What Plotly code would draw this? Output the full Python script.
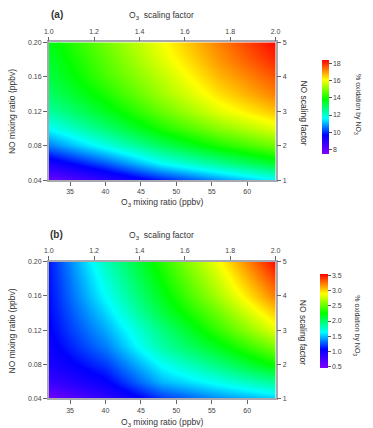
import plotly.graph_objects as go

# ---------------- data ----------------
o3_ppbv = [32, 40, 48, 56, 64]
no_ppbv = [0.04, 0.06, 0.08, 0.10, 0.12, 0.14, 0.16, 0.18, 0.20]

# panel (a): % oxidation by NO3, rows = NO mixing ratio, cols = O3 mixing ratio
z_a = [
    [7.8, 8.8, 9.8, 10.7, 11.5],
    [9.2, 10.3, 11.6, 12.5, 13.4],
    [10.6, 11.8, 13.0, 14.0, 14.8],
    [11.6, 12.8, 14.0, 15.0, 15.8],
    [12.4, 13.5, 14.7, 15.8, 16.6],
    [12.9, 14.0, 15.2, 16.3, 17.2],
    [13.2, 14.4, 15.5, 16.7, 17.6],
    [13.4, 14.6, 15.8, 17.0, 18.0],
    [13.6, 14.8, 16.0, 17.2, 18.3],
]

# panel (b)
z_b = [
    [0.50, 0.85, 1.18, 1.38, 1.52],
    [0.80, 1.05, 1.48, 1.68, 1.90],
    [0.95, 1.20, 1.65, 1.95, 2.28],
    [1.02, 1.35, 1.85, 2.20, 2.58],
    [1.06, 1.45, 1.95, 2.40, 2.85],
    [1.08, 1.55, 2.10, 2.55, 3.05],
    [1.10, 1.65, 2.20, 2.70, 3.25],
    [1.11, 1.72, 2.28, 2.80, 3.40],
    [1.12, 1.80, 2.35, 2.90, 3.55],
]

o3_scale_range = [1.0, 2.0]
no_scale_range = [1, 5]
o3_scale_ticks = [1.0, 1.2, 1.4, 1.6, 1.8, 2.0]
no_scale_ticks = [1, 2, 3, 4, 5]
o3_ticks = [35, 40, 45, 50, 55, 60]
no_ticks = [0.04, 0.08, 0.12, 0.16, 0.20]
cb_a_ticks = [8, 10, 12, 14, 16, 18]
cb_b_ticks = [0.5, 1.0, 1.5, 2.0, 2.5, 3.0, 3.5]

# ---------------- layout ----------------
W, H = 373, 428
FONT = "Liberation Sans, Arial, sans-serif"
TXT = "#333333"
LINE = "#a8a8b0"

def px(x):
    return x / W

def py(y):
    return 1 - y / H

rainbow = [
    [0.0, "#8000ff"],
    [0.2, "#0000ff"],
    [0.38, "#00ffff"],
    [0.58, "#00ff00"],
    [0.79, "#ffff00"],
    [1.0, "#ff0000"],
]

fig = go.Figure()

def add_panel(z, xa, ya, xa2, ya2, zmin, zmax, cb_ticks, cb_fmt, cb_x, cb_top, cb_bot, cb_thick):
    fig.add_trace(go.Heatmap(
        x=o3_ppbv, y=no_ppbv, z=z, xaxis=xa, yaxis=ya,
        zmin=zmin, zmax=zmax, zsmooth="best", colorscale=rainbow,
        colorbar=dict(
            x=px(cb_x), xanchor="left", xpad=0, ypad=0,
            y=py((cb_top + cb_bot) / 2), yanchor="middle",
            len=(cb_bot - cb_top) / H, lenmode="fraction",
            thickness=cb_thick, thicknessmode="pixels",
            outlinewidth=0, ticks="outside", ticklen=3, tickwidth=1,
            tickcolor="#555", tickvals=cb_ticks, tickformat=cb_fmt,
            tickfont=dict(size=7, color="#444", family=FONT),
        ),
        hoverinfo="skip",
    ))
    # invisible trace so that the secondary (scaling factor) axes are drawn
    fig.add_trace(go.Scatter(
        x=o3_scale_range, y=no_scale_range, xaxis=xa2, yaxis=ya2,
        mode="markers", marker=dict(size=1, opacity=0), hoverinfo="skip",
        showlegend=False,
    ))

add_panel(z_a, "x", "y", "x2", "y2", 7.45, 18.35, cb_a_ticks, "d", 326, 57, 153, 7)
add_panel(z_b, "x3", "y3", "x4", "y4", 0.45, 3.57, cb_b_ticks, ".1f", 324, 274, 370, 8)

xdom = [px(45), px(278)]
ydom_a = [py(179), py(39)]
ydom_b = [py(401), py(262)]

tickfont = dict(size=7, color="#444", family=FONT)
common = dict(showline=True, linecolor=LINE, linewidth=1.5, ticks="outside",
              ticklen=4, tickwidth=1, tickcolor="#666", showgrid=False,
              zeroline=False, tickfont=tickfont, fixedrange=True)

fig.update_layout(
    width=W, height=H, margin=dict(l=0, r=0, t=0, b=0),
    paper_bgcolor="white", plot_bgcolor="white", showlegend=False,
    font=dict(family=FONT, color=TXT),
    xaxis=dict(domain=xdom, anchor="y", range=[32, 64], tickvals=o3_ticks, **common),
    yaxis=dict(domain=ydom_a, anchor="x", range=[0.04, 0.20], tickvals=no_ticks,
               tickformat=".2f", **common),
    xaxis2=dict(overlaying="x", anchor="y2", side="top", range=o3_scale_range,
                tickvals=o3_scale_ticks, tickformat=".1f", **common),
    yaxis2=dict(overlaying="y", anchor="x2", side="right", range=no_scale_range,
                tickvals=no_scale_ticks, **common),
    xaxis3=dict(domain=xdom, anchor="y3", range=[32, 64], tickvals=o3_ticks, **common),
    yaxis3=dict(domain=ydom_b, anchor="x3", range=[0.04, 0.20], tickvals=no_ticks,
                tickformat=".2f", **common),
    xaxis4=dict(overlaying="x3", anchor="y4", side="top", range=o3_scale_range,
                tickvals=o3_scale_ticks, tickformat=".1f", **common),
    yaxis4=dict(overlaying="y3", anchor="x4", side="right", range=no_scale_range,
                tickvals=no_scale_ticks, **common),
)

def ann(text, x, y, size=8.5, angle=0, bold=False):
    if bold:
        text = "<b>" + text + "</b>"
    fig.add_annotation(text=text, x=px(x), y=py(y), xref="paper", yref="paper",
                       showarrow=False, textangle=angle, xanchor="center",
                       yanchor="middle", font=dict(size=size, color=TXT, family=FONT))

for dy, lab in [(0, "(a)"), (223, "(b)")]:
    ann(lab, 53, 11 + dy, size=10, bold=True)
    ann("O<sub>3</sub>  scaling factor", 161, 12 + dy)
    ann("O<sub>3</sub> mixing ratio (ppbv)", 161, 202 + dy)
    ann("NO mixing ratio (ppbv)", 7, 109 + dy, angle=-90)
    ann("NO scaling factor", 307, 111 + dy, angle=90)

ann("% oxidation by NO<sub>3</sub>", 362, 102, size=7, angle=90)
ann("% oxidation by NO<sub>3</sub>", 362, 327, size=7, angle=90)

fig.write_html("out.html")
